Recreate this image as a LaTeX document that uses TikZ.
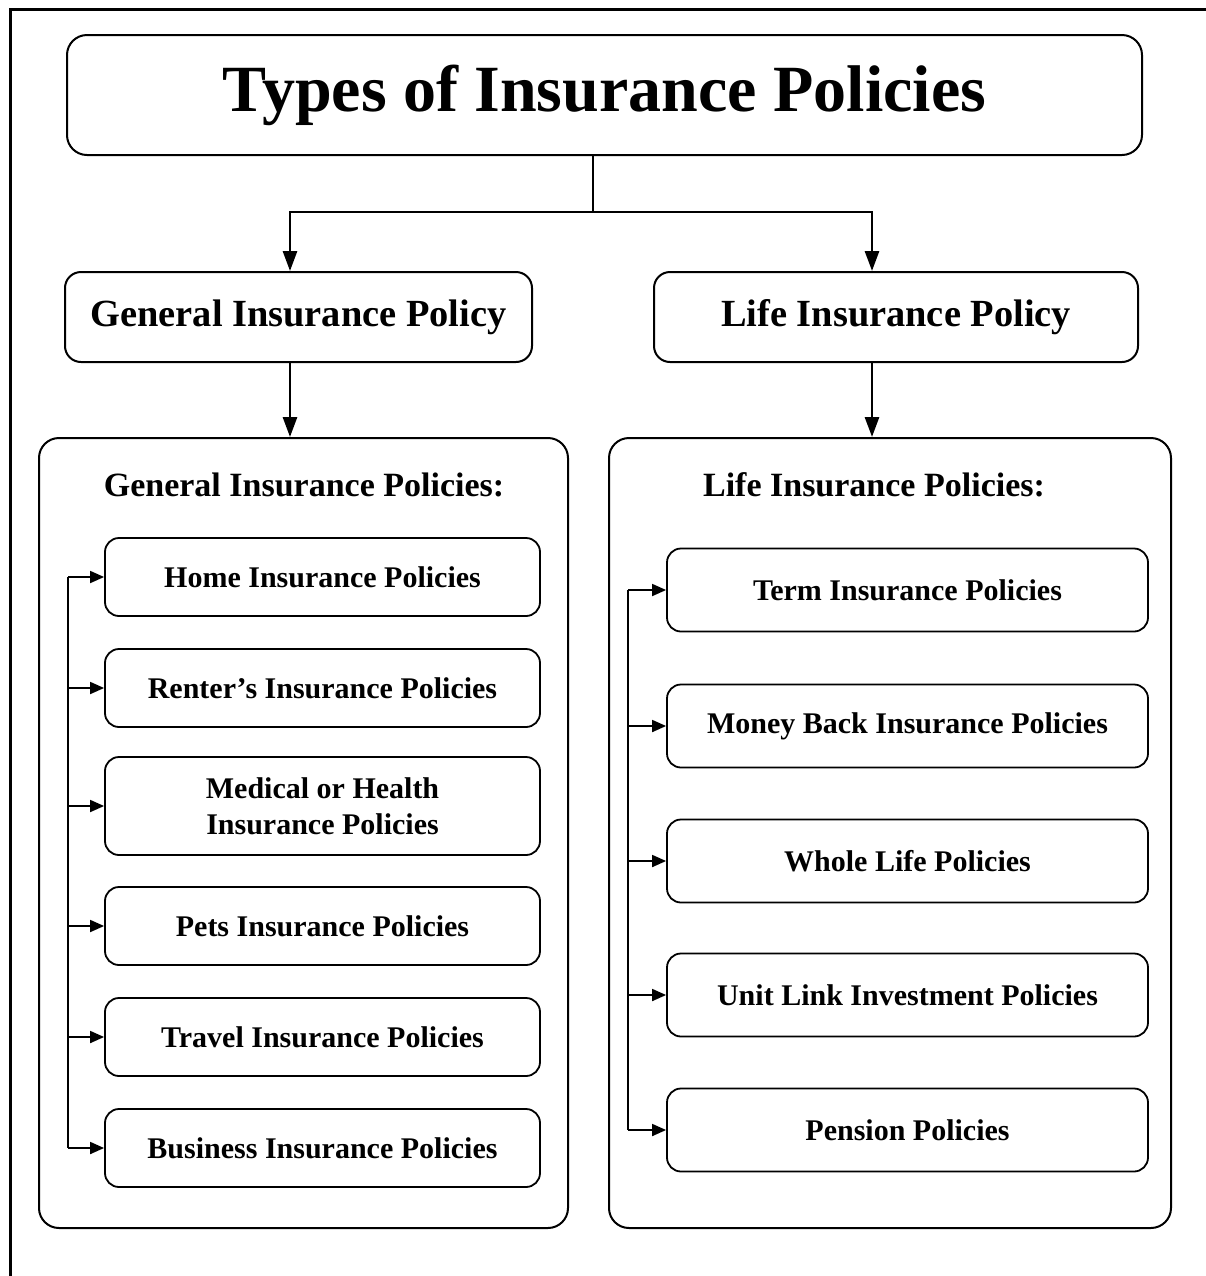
\documentclass[tikz,border=0pt]{standalone}
\usepackage{fontspec}
\setmainfont{Liberation Serif}
\usepackage{tikz}
\usetikzlibrary{positioning}
\usetikzlibrary{arrows.meta}

\tikzset{
    titlebox/.style={draw, line width=1pt, rounded corners=10pt, minimum width=537.5pt, minimum height=60pt, font=\fontsize{33}{40}\selectfont\bfseries},
    headbox/.style={draw, line width=1pt, rounded corners=8pt, minimum height=45pt, font=\fontsize{19.2}{23}\selectfont\bfseries},
    panelbox/.style={draw, line width=1pt, rounded corners=10pt, minimum height=395pt},
    paneltitle/.style={font=\fontsize{17}{20}\selectfont\bfseries},
    genitem/.style={draw, line width=0.9pt, rounded corners=7pt, minimum width=217.5pt, minimum height=39pt, align=center, font=\fontsize{15}{18}\selectfont\bfseries},
    lifeitem/.style={draw, line width=0.9pt, rounded corners=7pt, minimum width=240.5pt, minimum height=41.5pt, align=center, font=\fontsize{15}{18}\selectfont\bfseries},
    mainarrow/.style={line width=1.4pt, -{Triangle[length=10pt,width=7pt]}},
    busline/.style={line width=0.9pt},
    itemarrow/.style={line width=0.9pt, -{Triangle[length=7pt,width=6pt]}}
}

\begin{document}
\begin{tikzpicture}[x=0.5pt, y=-0.5pt]
            \clip (0,0) rectangle (1206,1276);
            \fill[white] (0,0) rectangle (1206,1276);
            % outer frame, cut off at right and bottom
            \draw[line width=1.5pt] (10,1300) -- (10,9) -- (1230,9);

            % title and the two kinds of policy
            \node[titlebox] (title) at (604.5,95) {Types of Insurance Policies};
            \node[headbox, minimum width=233.5pt] (genhead) at (298.5,317) {General Insurance Policy};
            \node[headbox, minimum width=242pt] (lifehead) at (896,317) {Life Insurance Policy};

            \coordinate (split) at (593,212);
            \draw[line width=1.4pt] ([xshift=-5.75pt]title.south) -- (split);
            \draw[mainarrow] (split) -| ([xshift=-4.25pt]genhead.north);
            \draw[mainarrow] (split) -| ([xshift=-12pt]lifehead.north);

            % panels
            \node[panelbox, minimum width=264.5pt] (genpanel) at (303.5,833) {};
            \node[panelbox, minimum width=281pt] (lifepanel) at (890,833) {};
            \node[paneltitle] (gentitle) at (304,485) {General Insurance Policies:};
            \node[paneltitle] (lifetitle) at (874,485) {Life Insurance Policies:};

            \draw[mainarrow] ([xshift=-4.25pt]genhead.south) -- ([xshift=-4.25pt]genhead.south |- genpanel.north);
            \draw[mainarrow] ([xshift=-12pt]lifehead.south) -- ([xshift=-12pt]lifehead.south |- lifepanel.north);

            % general insurance items
            \node[genitem] (home) at (322.5,577) {Home Insurance Policies};
            \node[genitem] (renter) at (322.5,688) {Renter's Insurance Policies};
            \node[genitem, minimum height=49pt] (medical) at (322.5,806) {Medical or Health\\Insurance Policies};
            \node[genitem] (pets) at (322.5,926) {Pets Insurance Policies};
            \node[genitem] (travel) at (322.5,1037) {Travel Insurance Policies};
            \node[genitem] (business) at (322.5,1148) {Business Insurance Policies};

            \coordinate (genbus) at (68,577);
            \draw[busline] (home.west -| genbus) -- (business.west -| genbus);
            \draw[itemarrow] (home.west -| genbus) -- (home.west);
            \draw[itemarrow] (renter.west -| genbus) -- (renter.west);
            \draw[itemarrow] (medical.west -| genbus) -- (medical.west);
            \draw[itemarrow] (pets.west -| genbus) -- (pets.west);
            \draw[itemarrow] (travel.west -| genbus) -- (travel.west);
            \draw[itemarrow] (business.west -| genbus) -- (business.west);

            % life insurance items
            \node[lifeitem] (term) at (907.5,590) {Term Insurance Policies};
            \node[lifeitem] (moneyback) at (907.5,726) {Money Back Insurance Policies};
            \node[lifeitem] (wholelife) at (907.5,861) {Whole Life Policies};
            \node[lifeitem] (unitlink) at (907.5,995) {Unit Link Investment Policies};
            \node[lifeitem] (pension) at (907.5,1130) {Pension Policies};

            \coordinate (lifebus) at (628,590);
            \draw[busline] (term.west -| lifebus) -- (pension.west -| lifebus);
            \draw[itemarrow] (term.west -| lifebus) -- (term.west);
            \draw[itemarrow] (moneyback.west -| lifebus) -- (moneyback.west);
            \draw[itemarrow] (wholelife.west -| lifebus) -- (wholelife.west);
            \draw[itemarrow] (unitlink.west -| lifebus) -- (unitlink.west);
            \draw[itemarrow] (pension.west -| lifebus) -- (pension.west);
        \end{tikzpicture}
\end{document}
